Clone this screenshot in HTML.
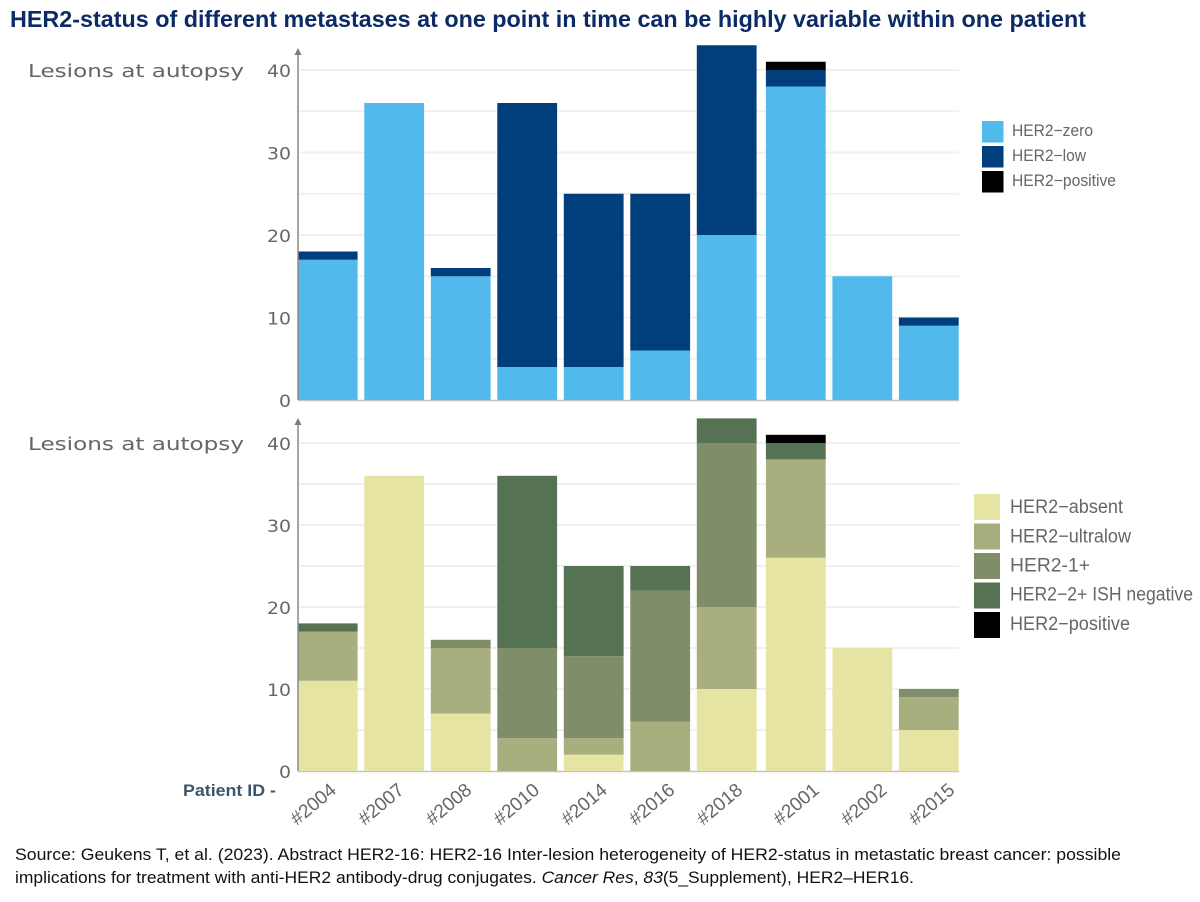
<!DOCTYPE html>
<html lang="en">
<head>
<meta charset="utf-8">
<title>HER2-status of metastases</title>
<style>
html,body{margin:0;padding:0;background:#fff;}
body{width:1200px;height:902px;overflow:hidden;}
svg{display:block;}
</style>
</head>
<body>
<svg id="chart" width="1200" height="902" viewBox="0 0 1200 902" xmlns="http://www.w3.org/2000/svg">
  <text x="10" y="27" font-family="'Liberation Sans',sans-serif" font-weight="700" font-size="23" fill="#0c2a66" textLength="1076" lengthAdjust="spacingAndGlyphs">HER2-status of different metastases at one point in time can be highly variable within one patient</text>
  <g id="top-panel"></g>
  <g id="bottom-panel"></g>
  <text x="183" y="796" font-family="'Liberation Sans',sans-serif" font-weight="700" font-size="17" fill="#3b566c" textLength="93" lengthAdjust="spacingAndGlyphs">Patient ID -</text>
  <text x="15" y="860" font-family="'Liberation Sans',sans-serif" font-size="17" fill="#111" textLength="1106" lengthAdjust="spacingAndGlyphs">Source: Geukens T, et al. (2023). Abstract HER2-16: HER2-16 Inter-lesion heterogeneity of HER2-status in metastatic breast cancer: possible</text>
  <text x="15" y="883" font-family="'Liberation Sans',sans-serif" font-size="17" fill="#111" textLength="899" lengthAdjust="spacingAndGlyphs">implications for treatment with anti-HER2 antibody-drug conjugates. <tspan font-style="italic">Cancer Res</tspan>, <tspan font-style="italic">83</tspan>(5_Supplement), HER2–HER16.</text>
</svg>
<script>
const categories = ['#2004','#2007','#2008','#2010','#2014','#2016','#2018','#2001','#2002','#2015'];
const tickLabels = [0,10,20,30,40];
const gridValues = [5,10,15,20,25,30,35,40];

const topZero     = [17,36,15,4,4,6,20,38,15,9];
const topLow      = [1,0,1,32,21,19,23,2,0,1];
const topPositive = [0,0,0,0,0,0,0,1,0,0];

const botAbsent   = [11,36,7,0,2,0,10,26,15,5];
const botUltralow = [6,0,8,4,2,6,10,12,0,4];
const botOnePlus  = [0,0,1,11,10,16,20,0,0,1];
const botTwoPlus  = [1,0,0,21,11,3,3,2,0,0];
const botPositive = [0,0,0,0,0,0,0,1,0,0];

const NS = 'http://www.w3.org/2000/svg';
const SANS = "'Liberation Sans',sans-serif";
const WIDE = "'DejaVu Sans',sans-serif";

function mk(tag, attrs, parent, txt) {
  const e = document.createElementNS(NS, tag);
  for (const k in attrs) e.setAttribute(k, attrs[k]);
  if (txt !== undefined) e.textContent = txt;
  parent.appendChild(e);
  return e;
}

// Category axis: bars step evenly, with a slightly wider gap before the eighth.
function xBar(i) { return 297.8 + 66.5 * i + (i >= 7 ? 2.6 : 0); }
function xLabel(i) { return 337.5 + 67.7 * i + (i >= 7 ? 9 : 0); }
const BAR_W = 59.8;
const X_END = 959;

function drawPanel(panel, y0, unit, arrowTop, series) {
  const y = v => y0 - v * unit;

  gridValues.forEach(v => {
    const g = mk('line', {x1: 298, x2: X_END, y1: y(v), y2: y(v), stroke: '#f0f0f0', 'stroke-width': 2}, panel);
    
    
  });

  const base = mk('line', {x1: 298, x2: X_END, y1: y0 + 0.5, y2: y0 + 0.5, stroke: '#c4c4c4', 'stroke-width': 1.5}, panel);
  
  

  categories.forEach((c, i) => {
    let acc = 0;
    series.forEach(s => {
      const v = s.values[i];
      if (v > 0) {
        const r = mk('rect', {x: xBar(i), y: y(acc + v), width: BAR_W, height: v * unit, fill: s.color}, panel);
        
        
      }
      acc += v;
    });
  });

  const axis = mk('line', {x1: 298, x2: 298, y1: y0, y2: arrowTop + 5, stroke: '#8a8a8a', 'stroke-width': 1.5}, panel);
  
  
  const arrow = mk('polygon', {points: `298,${arrowTop} 294.5,${arrowTop + 7} 301.5,${arrowTop + 7}`, fill: '#7a7a7a'}, panel);
  
  

  tickLabels.forEach(v => {
    const t = mk('text', {x: 291, y: y(v) + 7, 'text-anchor': 'end', 'font-family': WIDE, 'font-size': 16.5, fill: '#666', textLength: v === 0 ? 12 : 24, lengthAdjust: 'spacingAndGlyphs'}, panel, String(v));
    
    
  });

  const title = mk('text', {x: 28, y: y(40) + 7, 'font-family': WIDE, 'font-size': 18, fill: '#666', textLength: 216, lengthAdjust: 'spacingAndGlyphs'}, panel, 'Lesions at autopsy');
  
  
}

function drawLegend(panel, entries, sx, size, tx, font) {
  entries.forEach(en => {
    const r = mk('rect', {x: sx, y: en.top, width: size, height: size, fill: en.color}, panel);
    
    
    const t = mk('text', {x: tx, y: en.base, 'font-family': SANS, 'font-size': font, fill: '#666', textLength: en.len, lengthAdjust: 'spacingAndGlyphs'}, panel, en.label);
    
    
  });
}

const topPanel = document.getElementById('top-panel');
const botPanel = document.getElementById('bottom-panel');

drawPanel(topPanel, 400, 8.25, 48, [
  {key: 'zero', values: topZero, color: '#52b9ec'},
  {key: 'low', values: topLow, color: '#013f7c'},
  {key: 'positive', values: topPositive, color: '#000000'}
]);

drawPanel(botPanel, 771, 8.2, 418, [
  {key: 'absent', values: botAbsent, color: '#e5e4a3'},
  {key: 'ultralow', values: botUltralow, color: '#a9ae7e'},
  {key: 'one-plus', values: botOnePlus, color: '#7f8d68'},
  {key: 'two-plus', values: botTwoPlus, color: '#557252'},
  {key: 'positive', values: botPositive, color: '#000000'}
]);

drawLegend(topPanel, [
  {label: 'HER2−zero', color: '#52b9ec', top: 121, base: 136, len: 81},
  {label: 'HER2−low', color: '#013f7c', top: 146, base: 161, len: 74},
  {label: 'HER2−positive', color: '#000000', top: 171, base: 186, len: 104}
], 982, 21.5, 1012, 16.5);

drawLegend(botPanel, [
  {label: 'HER2−absent', color: '#e5e4a3', top: 494, base: 513, len: 113},
  {label: 'HER2−ultralow', color: '#a9ae7e', top: 523.5, base: 542.5, len: 121},
  {label: 'HER2-1+', color: '#7f8d68', top: 553, base: 571.5, len: 80},
  {label: 'HER2−2+ ISH negative', color: '#557252', top: 582.5, base: 600.5, len: 183},
  {label: 'HER2−positive', color: '#000000', top: 612, base: 630, len: 120}
], 974, 26, 1010, 19);

categories.forEach((c, i) => {
  const lx = xLabel(i);
  const t = mk('text', {x: lx, y: 792, 'text-anchor': 'end', 'font-family': SANS, 'font-size': 19, fill: '#666', transform: `rotate(-40 ${lx} 792)`}, botPanel, c);
  
  
});
</script>
</body>
</html>
